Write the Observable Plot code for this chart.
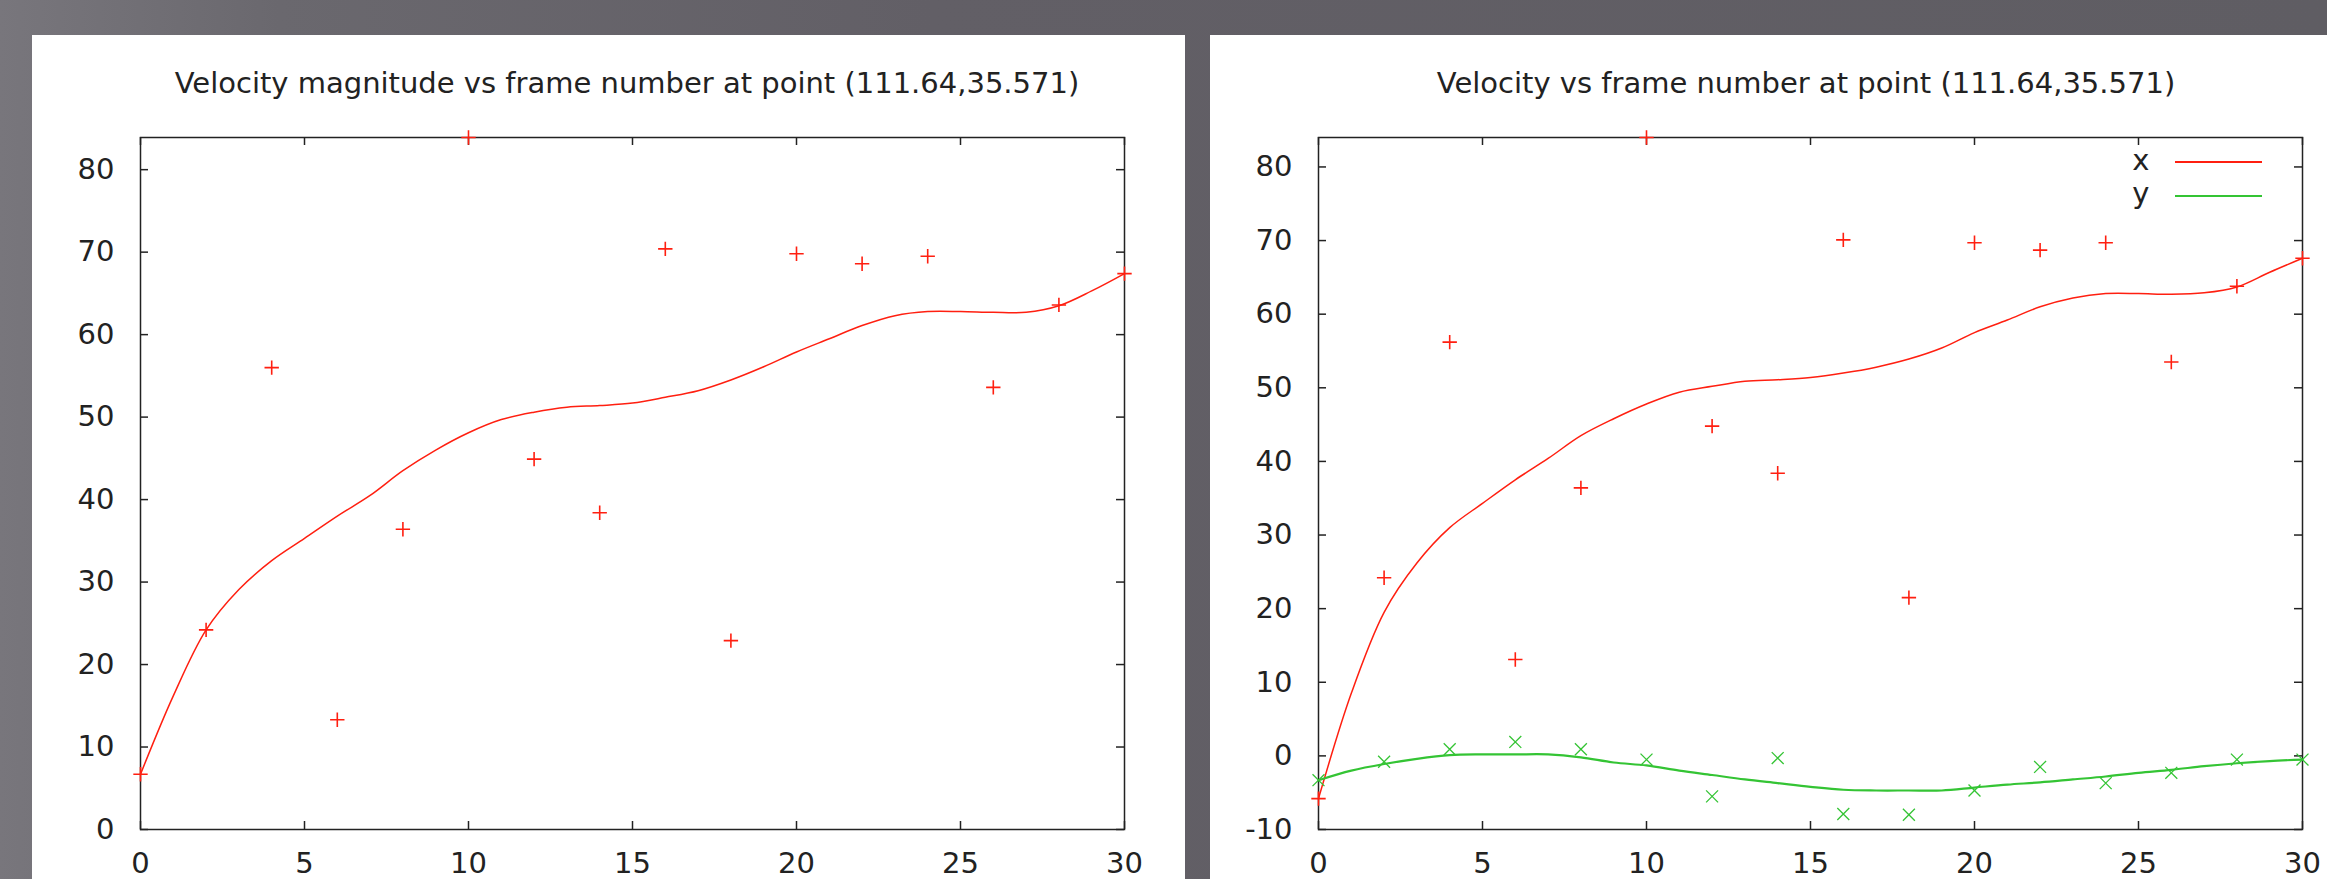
<!DOCTYPE html>
<html>
<head>
<meta charset="utf-8">
<script src="https://cdn.jsdelivr.net/npm/d3@7"></script>
<script src="https://cdn.jsdelivr.net/npm/@observablehq/plot@0.6"></script>
<style>
html, body { margin: 0; padding: 0; width: 2327px; height: 879px; overflow: hidden; }
body {
  background: linear-gradient(to right, #78767c 0%, #6a686e 12%, #625f66 40%, #5f5d63 100%);
  font-family: "DejaVu Sans", sans-serif;
  position: relative;
}
.panel { position: absolute; top: 35px; height: 844px; background: #fff; overflow: hidden; }
#left { left: 32px; width: 1153px; }
#right { left: 1210px; width: 1117px; }
.title {
  position: absolute; top: 33.5px; font-size: 29px; line-height: 29px; color: #222;
  white-space: nowrap; transform: translateX(-50%);
}
.chart { position: absolute; top: 70px; left: 0; }
.leg-text { position: absolute; font-size: 29px; line-height: 29px; color: #222; text-align: right; width: 40px; }
.leg-line { position: absolute; height: 2.5px; width: 87px; }
</style>
</head>
<body>
<div class="panel" id="left">
  <div class="title" id="title-left" style="left:595px"></div>
  <div class="chart" id="chart-left"></div>
</div>
<div class="panel" id="right">
  <div class="title" id="title-right" style="left:596px"></div>
  <div class="chart" id="chart-right"></div>
  <div id="legend"></div>
</div>
<script>
// ---------- data ----------
const titleLeft = "Velocity magnitude vs frame number at point (111.64,35.571)";
const titleRight = "Velocity vs frame number at point (111.64,35.571)";

// sampled frames (every second frame)
const frames = [0, 2, 4, 6, 8, 10, 12, 14, 16, 18, 20, 22, 24, 26, 28, 30];
const magnitude = [6.7, 24.2, 56.0, 13.3, 36.4, 83.9, 44.9, 38.4, 70.4, 22.9, 69.8, 68.6, 69.5, 53.6, 63.6, 67.4];
const velX = [-5.8, 24.2, 56.2, 13.1, 36.4, 84.0, 44.8, 38.4, 70.1, 21.5, 69.7, 68.7, 69.7, 53.5, 63.8, 67.6];
const velY = [-3.3, -0.8, 0.9, 1.9, 0.9, -0.5, -5.5, -0.3, -7.9, -8.0, -4.7, -1.5, -3.7, -2.3, -0.5, -0.5];

// smoothed curves as drawn in the picture (read at every frame)
const curveFrames = [0,1,2,3,4,5,6,7,8,9,10,11,12,13,14,15,16,17,18,19,20,21,22,23,24,25,26,27,28,29,30];
const magnitudeCurve = [6.7,16.2,24.2,29.1,32.6,35.3,38.0,40.5,43.5,46.0,48.1,49.7,50.6,51.2,51.4,51.7,52.4,53.2,54.5,56.1,57.9,59.5,61.1,62.3,62.8,62.8,62.7,62.7,63.5,65.3,67.4];
const velXCurve = [-5.8,8.5,19.5,26.2,31.0,34.3,37.5,40.4,43.5,45.8,47.8,49.4,50.2,50.9,51.1,51.4,52.0,52.8,53.9,55.4,57.5,59.2,61.0,62.2,62.8,62.8,62.7,62.9,63.7,65.7,67.6];
const velYCurve = [-3.3,-2.0,-1.1,-0.4,0.1,0.2,0.2,0.2,-0.2,-0.9,-1.3,-2.0,-2.6,-3.2,-3.7,-4.2,-4.6,-4.7,-4.7,-4.7,-4.3,-3.9,-3.6,-3.2,-2.8,-2.3,-1.9,-1.4,-1.0,-0.7,-0.5];

const xTicks = [0, 5, 10, 15, 20, 25, 30];
const yTicksLeft = [0, 10, 20, 30, 40, 50, 60, 70, 80];
const yTicksRight = [-10, 0, 10, 20, 30, 40, 50, 60, 70, 80];
const legendLabels = ["x", "y"];

// ---------- styles ----------
const RED = "#ff1f10";
const GREEN = "#34c434";
const FRAME_W = 984, FRAME_H = 692, TICK = 8;

function framedTicks(yTicks) {
  return [
    Plot.ruleX(xTicks, {x: d => d, stroke: "#222", strokeWidth: 1.5, insetTop: FRAME_H - TICK}),
    Plot.ruleX(xTicks, {x: d => d, stroke: "#222", strokeWidth: 1.5, insetBottom: FRAME_H - TICK}),
    Plot.ruleY(yTicks, {y: d => d, stroke: "#222", strokeWidth: 1.5, insetRight: FRAME_W - TICK}),
    Plot.ruleY(yTicks, {y: d => d, stroke: "#222", strokeWidth: 1.5, insetLeft: FRAME_W - TICK}),
    Plot.axisX(xTicks, {tickSize: 0, tickPadding: 23, tickFormat: d => String(d), fill: "#222", label: null}),
    Plot.axisY(yTicks, {tickSize: 0, tickPadding: 26, tickFormat: d => String(d), fill: "#222", label: null}),
    Plot.frame({stroke: "#222", strokeWidth: 1.5})
  ];
}

const baseStyle = {fontFamily: "'DejaVu Sans', sans-serif", fontSize: "29px", color: "#222", background: "transparent", overflow: "visible"};

const magPts = frames.map((f, i) => ({f, v: magnitude[i]}));
const magLine = curveFrames.map((f, i) => ({f, v: magnitudeCurve[i]}));
const xPts = frames.map((f, i) => ({f, v: velX[i]}));
const yPts = frames.map((f, i) => ({f, v: velY[i]}));
const xLine = curveFrames.map((f, i) => ({f, v: velXCurve[i]}));
const yLine = curveFrames.map((f, i) => ({f, v: velYCurve[i]}));

const leftPlot = Plot.plot({
  width: 1153, height: 774,
  marginLeft: 108, marginRight: 61, marginTop: 32, marginBottom: 50,
  style: baseStyle,
  x: {domain: [0, 30], axis: null, label: null},
  y: {domain: [0, d3.max(magnitude)], axis: null, label: null},
  marks: [
    ...framedTicks(yTicksLeft),
    Plot.line(magLine, {x: "f", y: "v", stroke: RED, strokeWidth: 1.5, curve: "catmull-rom"}),
    Plot.dot(magPts, {x: "f", y: "v", symbol: "plus", r: 4.7, stroke: RED, strokeWidth: 1.6})
  ]
});
document.getElementById("chart-left").appendChild(leftPlot);

const rightPlot = Plot.plot({
  width: 1117, height: 774,
  marginLeft: 108, marginRight: 25, marginTop: 32, marginBottom: 50,
  style: baseStyle,
  x: {domain: [0, 30], axis: null, label: null},
  y: {domain: [-10, d3.max(velX)], axis: null, label: null},
  marks: [
    ...framedTicks(yTicksRight),
    Plot.line(xLine, {x: "f", y: "v", stroke: RED, strokeWidth: 1.5, curve: "catmull-rom"}),
    Plot.line(yLine, {x: "f", y: "v", stroke: GREEN, strokeWidth: 2.2, curve: "catmull-rom"}),
    Plot.dot(xPts, {x: "f", y: "v", symbol: "plus", r: 4.7, stroke: RED, strokeWidth: 1.6}),
    Plot.dot(yPts, {x: "f", y: "v", symbol: "times", r: 5.5, stroke: GREEN, strokeWidth: 1.3})
  ]
});
document.getElementById("chart-right").appendChild(rightPlot);

document.getElementById("title-left").textContent = titleLeft;
document.getElementById("title-right").textContent = titleRight;

// legend (panel coordinates)
const legendColors = [RED, GREEN];
const legend = document.getElementById("legend");
legendLabels.forEach((lab, i) => {
  const t = document.createElement("div");
  t.className = "leg-text";
  t.textContent = lab;
  t.style.left = (939.5 - 40) + "px";
  t.style.top = (135 - 24.5 + i * 33) + "px";
  legend.appendChild(t);
  const l = document.createElement("div");
  l.className = "leg-line";
  l.style.left = "965px";
  l.style.top = (125.5 + i * 34.3) + "px";
  l.style.background = legendColors[i];
  legend.appendChild(l);
});
</script>
</body>
</html>
